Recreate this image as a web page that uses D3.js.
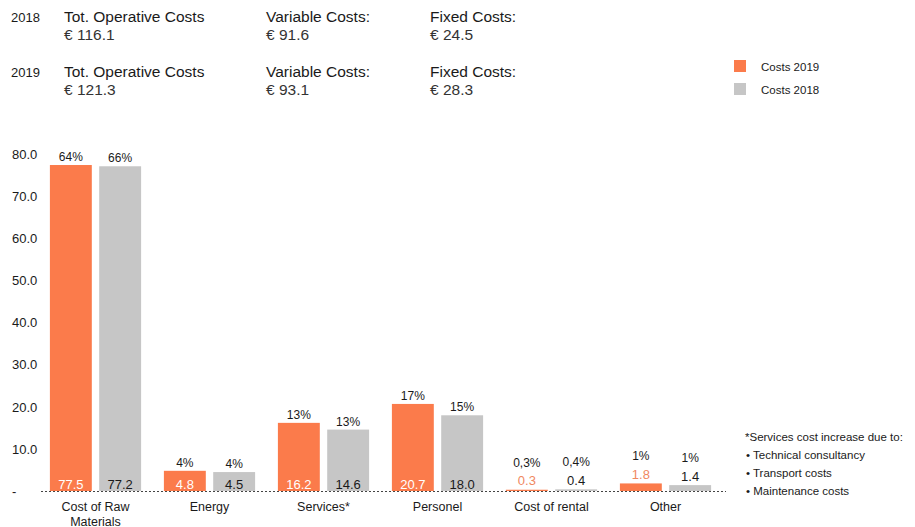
<!DOCTYPE html>
<html>
<head>
<meta charset="utf-8">
<script src="https://cdn.jsdelivr.net/npm/d3@7"></script>
<style>
	body { margin: 0; background: #fff; }
	svg { font-family: "Liberation Sans", Arial, sans-serif; }
	.axis path, .axis line { display: none; }
</style>
</head>
<body>
<svg id="chart" width="915" height="527"></svg>
<script>
	// data
	var categories = ["Cost of Raw Materials", "Energy", "Services*", "Personel", "Cost of rental", "Other"];
	var catLines = [["Cost of Raw", "Materials"], ["Energy"], ["Services*"], ["Personel"], ["Cost of rental"], ["Other"]];
	var costs2019 = [77.5, 4.8, 16.2, 20.7, 0.3, 1.8];
	var costs2018 = [77.2, 4.5, 14.6, 18.0, 0.4, 1.4];
	var pct2019 = ["64%", "4%", "13%", "17%", "0,3%", "1%"];
	var pct2018 = ["66%", "4%", "13%", "15%", "0,4%", "1%"];
	var yTicks = [0, 10, 20, 30, 40, 50, 60, 70, 80];
	var seriesNames = ["Costs 2019", "Costs 2018"];

	var summaryYears = ["2018", "2019"];
	var summaryHeads = ["Tot. Operative Costs", "Variable Costs:", "Fixed Costs:"];
	var summary2018 = ["€ 116.1", "€ 91.6", "€ 24.5"];
	var summary2019 = ["€ 121.3", "€ 93.1", "€ 28.3"];

	var notes = ["*Services cost increase due to:", "• Technical consultancy", "• Transport costs", "• Maintenance costs"];

	var orange = "#fb7b4b", grey = "#c6c6c6", ink = "#1a1a1a";

	var svg = d3.select("#chart");

	// header block
	var headX = [64, 266, 430];
	var rowY = [22, 77];
	[summary2018, summary2019].forEach(function(vals, r) {
		svg.append("text")
			.attr("x", 11).attr("y", rowY[r])
			.attr("font-size", 13).attr("fill", ink)
			.text(summaryYears[r]);
		summaryHeads.forEach(function(h, i) {
			svg.append("text")
				.attr("x", headX[i]).attr("y", rowY[r])
				.attr("font-size", 15.5).attr("fill", ink)
				.text(h);
			svg.append("text")
				.attr("x", headX[i]).attr("y", rowY[r] + 18)
				.attr("font-size", 15.5).attr("fill", "#333")
				.text(vals[i]);
		});
	});

	// legend
	var legend = svg.selectAll(".legend")
		.data(seriesNames)
		.enter().append("g")
		.attr("class", "legend")
		.attr("transform", function(d, i) { return "translate(734," + (60 + i * 23) + ")"; });
	legend.append("rect")
		.attr("width", 12).attr("height", 12)
		.attr("fill", function(d, i) { return i == 0 ? orange : grey; });
	legend.append("text")
		.attr("x", 27).attr("y", 10.5)
		.attr("font-size", 11.5).attr("fill", ink)
		.text(function(d) { return d; });

	// scales
	var x = d3.scaleBand()
		.domain(categories)
		.range([38.5, 722.5])
		.paddingInner(0.2)
		.paddingOuter(0.1);
	var x1 = d3.scaleBand()
		.domain(seriesNames)
		.range([0, x.bandwidth()])
		.paddingInner(0.15);
	var y = d3.scaleLinear().domain([0, 80]).range([491, 154.5]);

	// y axis, labels left aligned
	var yAxis = svg.append("g")
		.attr("class", "axis")
		.call(d3.axisLeft(y).tickValues(yTicks).tickSize(0)
			.tickFormat(function(d) { return d == 0 ? "-" : d.toFixed(1); }));
	yAxis.selectAll("text")
		.attr("x", 12)
		.attr("text-anchor", "start")
		.attr("font-size", 13)
		.attr("font-family", "Liberation Sans, Arial, sans-serif")
		.attr("fill", ink);

	// x axis with wrapped labels
	var xAxis = svg.append("g")
		.attr("class", "axis")
		.attr("transform", "translate(0,491)")
		.call(d3.axisBottom(x).tickSize(0).tickFormat(""));
	xAxis.selectAll(".tick text").remove();
	xAxis.selectAll(".tick")
		.append("text")
		.attr("text-anchor", "middle")
		.attr("font-size", 12.5)
		.attr("fill", ink)
		.each(function(d, i) {
			var t = d3.select(this);
			catLines[i].forEach(function(line, k) {
				t.append("tspan").attr("x", 0).attr("y", 20 + k * 14.5).text(line);
			});
		});

	// bars
	var rows = categories.map(function(c, i) {
		return [
			{cat: c, s: seriesNames[0], v: costs2019[i], p: pct2019[i], k: 0},
			{cat: c, s: seriesNames[1], v: costs2018[i], p: pct2018[i], k: 1}
		];
	});

	var group = svg.selectAll(".group")
		.data(rows)
		.enter().append("g")
		.attr("class", "group")
		.attr("transform", function(d, i) { return "translate(" + x(categories[i]) + ",0)"; });

	var bar = group.selectAll(".bar")
		.data(function(d) { return d; })
		.enter().append("g")
		.attr("class", "bar");

	bar.append("rect")
		.attr("x", function(d) { return x1(d.s); })
		.attr("y", function(d) { return y(d.v); })
		.attr("width", x1.bandwidth())
		.attr("height", function(d) { return y(0) - y(d.v); })
		.attr("fill", function(d) { return d.k == 0 ? orange : grey; });

	// value labels: inside bar bottom when it fits, else above bar
	bar.append("text")
		.attr("x", function(d) { return x1(d.s) + x1.bandwidth() / 2; })
		.attr("y", function(d) { return d.v >= 3 ? 489 : y(d.v) - 4.5; })
		.attr("text-anchor", "middle")
		.attr("font-size", 13)
		.attr("fill", function(d) {
			if (d.v >= 3) return d.k == 0 ? "#fff" : ink;
			return d.k == 0 ? "#f0885f" : ink;
		})
		.text(function(d) { return d.v.toFixed(1); });

	bar.append("text")
		.attr("x", function(d) { return x1(d.s) + x1.bandwidth() / 2; })
		.attr("y", function(d) { return d.v >= 3 ? y(d.v) - 4 : y(d.v) - 23; })
		.attr("text-anchor", "middle")
		.attr("font-size", 12)
		.attr("fill", ink)
		.text(function(d) { return d.p; });

	// dotted baseline
	svg.append("line")
		.attr("x1", 41).attr("x2", 726)
		.attr("y1", y(0) + 0.5).attr("y2", y(0) + 0.5)
		.attr("stroke", "#444")
		.attr("stroke-width", 1)
		.attr("stroke-dasharray", "2,2");

	// footnote
	svg.selectAll(".note")
		.data(notes)
		.enter().append("text")
		.attr("class", "note")
		.attr("x", function(d, i) { return i == 0 ? 745 : 746; })
		.attr("y", function(d, i) { return 441 + i * 18; })
		.attr("font-size", 11.5)
		.attr("fill", ink)
		.text(function(d) { return d; });
</script>
</body>
</html>
